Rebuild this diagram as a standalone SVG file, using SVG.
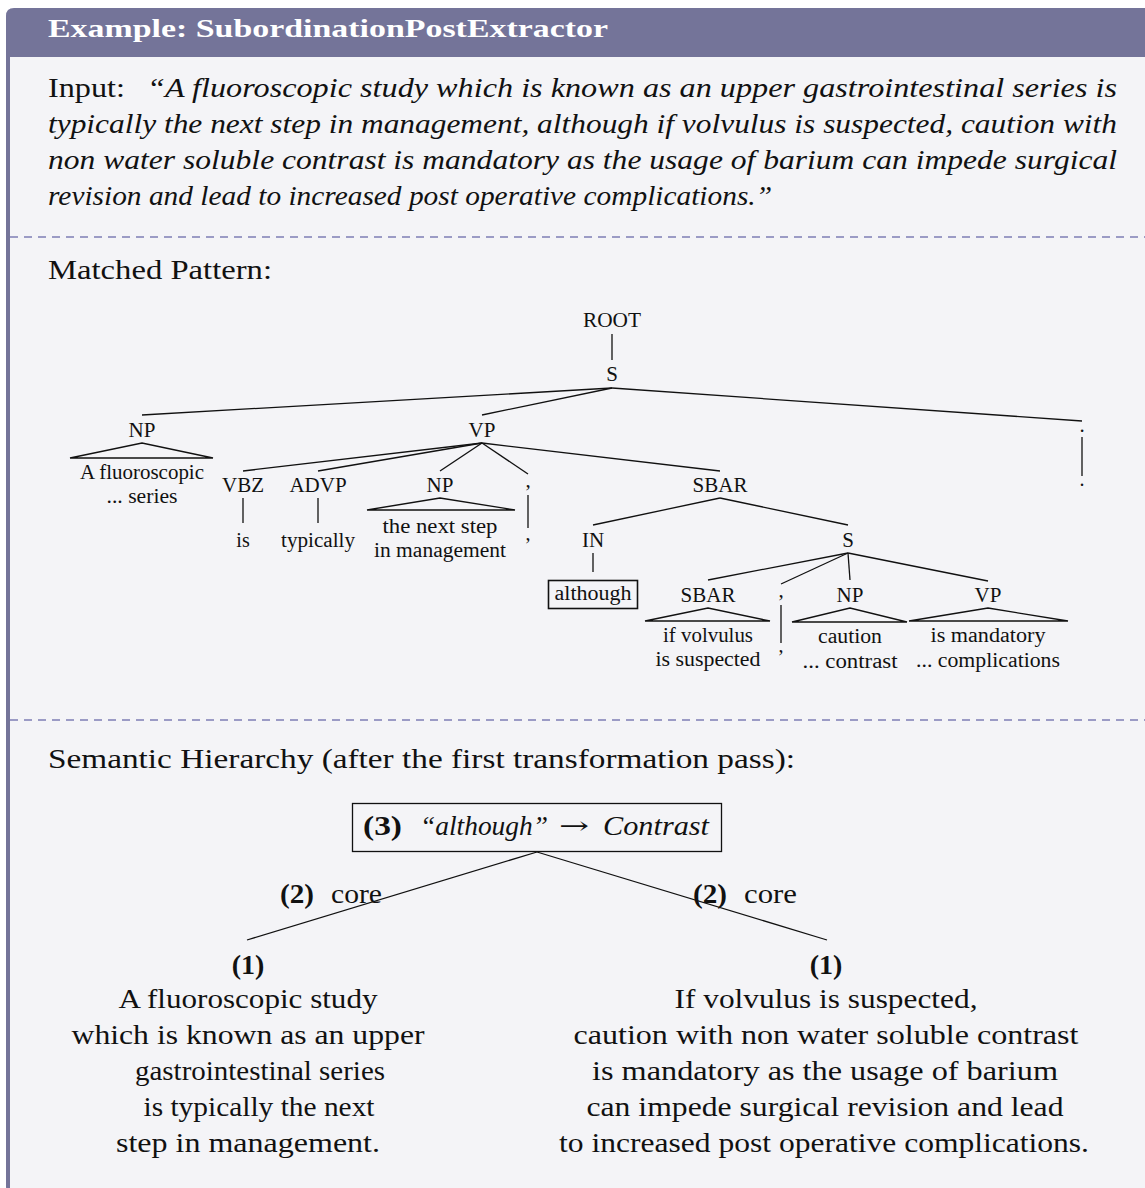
<svg xmlns="http://www.w3.org/2000/svg" width="1145" height="1188" viewBox="0 0 1145 1188">
<style>
text{font-family:"Liberation Serif","Times New Roman",serif;fill:#111}
.hdr{font-size:26px;font-weight:bold;fill:#fff}
.body{font-size:28px}
.it{font-style:italic}
.bf{font-weight:bold}
.lbl{font-size:21px;text-anchor:middle}
.leaf{font-size:20px;text-anchor:middle}
.c{text-anchor:middle}
.arr{font-family:"DejaVu Serif","DejaVu Sans",serif;font-size:24px}
.ln{stroke:#111;stroke-width:1.3;fill:none}
.dash{stroke:#7d7db5;stroke-width:1.3;stroke-dasharray:8 6}
</style>
<rect x="0" y="0" width="1145" height="1188" fill="#ffffff"/>
<g id="frame">
<path d="M6,16 Q6,8 14,8 H1150 V1194 H12 Q6,1194 6,1186 Z" fill="#747499"/>
<rect x="10" y="57" width="1140" height="1140" fill="#f4f4f7"/>
<text class="hdr" x="48" y="37" textLength="560" lengthAdjust="spacingAndGlyphs">Example: SubordinationPostExtractor</text>
<line class="dash" x1="10" y1="237" x2="1145" y2="237"/>
<line class="dash" x1="10" y1="720" x2="1145" y2="720"/>
</g>
<g id="input">
<text class="body" x="48" y="97" textLength="77" lengthAdjust="spacingAndGlyphs">Input:</text>
<text class="body it" x="147" y="97" textLength="970" lengthAdjust="spacingAndGlyphs">“A fluoroscopic study which is known as an upper gastrointestinal series is</text>
<text class="body it" x="48" y="133" textLength="1069" lengthAdjust="spacingAndGlyphs">typically the next step in management, although if volvulus is suspected, caution with</text>
<text class="body it" x="48" y="169" textLength="1069" lengthAdjust="spacingAndGlyphs">non water soluble contrast is mandatory as the usage of barium can impede surgical</text>
<text class="body it" x="48" y="205" textLength="724" lengthAdjust="spacingAndGlyphs">revision and lead to increased post operative complications.”</text>
</g>
<text class="body" x="48" y="279" textLength="224" lengthAdjust="spacingAndGlyphs">Matched Pattern:</text>
<text class="body" x="48" y="768" textLength="747" lengthAdjust="spacingAndGlyphs">Semantic Hierarchy (after the first transformation pass):</text>

<g id="tree-connectors">
<line class="ln" x1="612" y1="334" x2="612" y2="360"/>
<line class="ln" x1="612" y1="388" x2="142" y2="415"/>
<line class="ln" x1="612" y1="388" x2="482" y2="415"/>
<line class="ln" x1="612" y1="388" x2="1082" y2="421"/>
<line class="ln" x1="482" y1="443" x2="243" y2="471"/>
<line class="ln" x1="482" y1="443" x2="318" y2="471"/>
<line class="ln" x1="482" y1="443" x2="440" y2="471"/>
<line class="ln" x1="482" y1="443" x2="528" y2="474"/>
<line class="ln" x1="482" y1="443" x2="720" y2="471"/>
<line class="ln" x1="243" y1="498" x2="243" y2="523"/>
<line class="ln" x1="318" y1="498" x2="318" y2="523"/>
<line class="ln" x1="528" y1="495" x2="528" y2="528"/>
<line class="ln" x1="720" y1="498" x2="593" y2="525"/>
<line class="ln" x1="720" y1="498" x2="848" y2="525"/>
<line class="ln" x1="593" y1="553" x2="593" y2="572"/>
<line class="ln" x1="848" y1="553" x2="708" y2="580"/>
<line class="ln" x1="848" y1="553" x2="781" y2="584"/>
<line class="ln" x1="848" y1="553" x2="850" y2="580"/>
<line class="ln" x1="848" y1="553" x2="988" y2="581"/>
<line class="ln" x1="781" y1="605" x2="781" y2="643"/>
<line class="ln" x1="1082" y1="437" x2="1082" y2="476"/>
</g>

<g id="n-root"><text class="lbl" x="612" y="327" textLength="58" lengthAdjust="spacingAndGlyphs">ROOT</text></g>
<g id="n-s1"><text class="lbl" x="612" y="381">S</text></g>
<g id="n-np1">
<text class="lbl" x="142" y="437">NP</text>
<path class="ln" d="M70,458 L142,443 L213,458 Z"/>
<text class="leaf" x="142" y="479" textLength="124" lengthAdjust="spacingAndGlyphs">A fluoroscopic</text>
<text class="leaf" x="142" y="503" textLength="71" lengthAdjust="spacingAndGlyphs">... series</text>
</g>
<g id="n-vp1"><text class="lbl" x="482" y="437">VP</text></g>
<g id="n-period">
<text class="lbl" x="1082" y="432">.</text>
<text class="leaf" x="1082" y="486">.</text>
</g>
<g id="n-vbz">
<text class="lbl" x="243" y="492">VBZ</text>
<text class="leaf" x="243" y="547">is</text>
</g>
<g id="n-advp">
<text class="lbl" x="318" y="492">ADVP</text>
<text class="leaf" x="318" y="547" textLength="74" lengthAdjust="spacingAndGlyphs">typically</text>
</g>
<g id="n-np2">
<text class="lbl" x="440" y="492">NP</text>
<path class="ln" d="M367,510 L440,498 L515,510 Z"/>
<text class="leaf" x="440" y="533" textLength="115" lengthAdjust="spacingAndGlyphs">the next step</text>
<text class="leaf" x="440" y="557" textLength="132" lengthAdjust="spacingAndGlyphs">in management</text>
</g>
<g id="n-comma1">
<text class="lbl" x="528" y="487">,</text>
<text class="leaf" x="528" y="540">,</text>
</g>
<g id="n-sbar1"><text class="lbl" x="720" y="492">SBAR</text></g>
<g id="n-in">
<text class="lbl" x="593" y="547">IN</text>
<rect x="548.5" y="580.5" width="89" height="28" fill="none" stroke="#111" stroke-width="1.6"/>
<text class="leaf" x="593" y="600" textLength="77" lengthAdjust="spacingAndGlyphs">although</text>
</g>
<g id="n-s2"><text class="lbl" x="848" y="547">S</text></g>
<g id="n-sbar2">
<text class="lbl" x="708" y="602">SBAR</text>
<path class="ln" d="M645,621 L708,608 L770,621 Z"/>
<text class="leaf" x="708" y="642" textLength="90" lengthAdjust="spacingAndGlyphs">if volvulus</text>
<text class="leaf" x="708" y="666" textLength="105" lengthAdjust="spacingAndGlyphs">is suspected</text>
</g>
<g id="n-comma2">
<text class="lbl" x="781" y="597">,</text>
<text class="leaf" x="781" y="652">,</text>
</g>
<g id="n-np3">
<text class="lbl" x="850" y="602">NP</text>
<path class="ln" d="M792,622 L850,608 L907,622 Z"/>
<text class="leaf" x="850" y="643" textLength="64" lengthAdjust="spacingAndGlyphs">caution</text>
<text class="leaf" x="850" y="668" textLength="95" lengthAdjust="spacingAndGlyphs">... contrast</text>
</g>
<g id="n-vp3">
<text class="lbl" x="988" y="602">VP</text>
<path class="ln" d="M909,621 L988,608 L1068,621 Z"/>
<text class="leaf" x="988" y="642" textLength="115" lengthAdjust="spacingAndGlyphs">is mandatory</text>
<text class="leaf" x="988" y="667" textLength="144" lengthAdjust="spacingAndGlyphs">... complications</text>
</g>

<g id="hier-connectors">
<line class="ln" x1="537" y1="852" x2="247" y2="940"/>
<line class="ln" x1="537" y1="852" x2="827" y2="940"/>
</g>
<g id="h-contrast">
<rect x="352.5" y="803.5" width="369" height="48" fill="none" stroke="#111" stroke-width="1.3"/>
<text class="body bf" x="363" y="835" textLength="39" lengthAdjust="spacingAndGlyphs">(3)</text>
<text class="body it" x="420" y="835" textLength="128" lengthAdjust="spacingAndGlyphs">“although”</text>
<text class="arr" x="559" y="834" textLength="30" lengthAdjust="spacingAndGlyphs">→</text>
<text class="body it" x="603" y="835" textLength="106" lengthAdjust="spacingAndGlyphs">Contrast</text>
</g>
<g id="h-label-left">
<text class="body bf" x="280" y="903" textLength="34" lengthAdjust="spacingAndGlyphs">(2)</text>
<text class="body" x="331" y="903" textLength="51" lengthAdjust="spacingAndGlyphs">core</text>
</g>
<g id="h-label-right">
<text class="body bf" x="693" y="903" textLength="34" lengthAdjust="spacingAndGlyphs">(2)</text>
<text class="body" x="744" y="903" textLength="53" lengthAdjust="spacingAndGlyphs">core</text>
</g>
<g id="h-left">
<text class="body bf c" x="248" y="974">(1)</text>
<text class="body c" x="248" y="1008" textLength="259" lengthAdjust="spacingAndGlyphs">A fluoroscopic study</text>
<text class="body c" x="248" y="1044" textLength="353" lengthAdjust="spacingAndGlyphs">which is known as an upper</text>
<text class="body c" x="260" y="1080" textLength="250" lengthAdjust="spacingAndGlyphs">gastrointestinal series</text>
<text class="body c" x="259" y="1116" textLength="231" lengthAdjust="spacingAndGlyphs">is typically the next</text>
<text class="body c" x="248" y="1152" textLength="264" lengthAdjust="spacingAndGlyphs">step in management.</text>
</g>
<g id="h-right">
<text class="body bf c" x="826" y="974">(1)</text>
<text class="body c" x="826" y="1008" textLength="303" lengthAdjust="spacingAndGlyphs">If volvulus is suspected,</text>
<text class="body c" x="826" y="1044" textLength="505" lengthAdjust="spacingAndGlyphs">caution with non water soluble contrast</text>
<text class="body c" x="825" y="1080" textLength="466" lengthAdjust="spacingAndGlyphs">is mandatory as the usage of barium</text>
<text class="body c" x="825" y="1116" textLength="477" lengthAdjust="spacingAndGlyphs">can impede surgical revision and lead</text>
<text class="body c" x="824" y="1152" textLength="530" lengthAdjust="spacingAndGlyphs">to increased post operative complications.</text>
</g>
</svg>
